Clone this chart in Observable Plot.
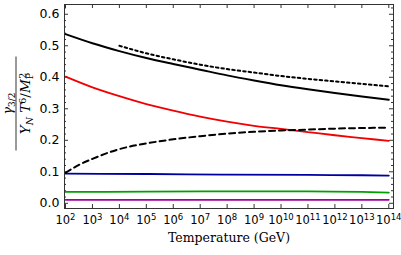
<!DOCTYPE html>
<html>
<head>
<meta charset="utf-8">
<script src="https://cdn.jsdelivr.net/npm/d3@7"></script>
<script src="https://cdn.jsdelivr.net/npm/@observablehq/plot@0.6"></script>
<style>
  html, body { margin: 0; padding: 0; background: #fff; }
</style>
</head>
<body>
<div id="chart"></div>
<script>
// Temperatures (GeV)
const T_full = [1e2, 1e3, 1e4, 1e5, 1e6, 1e7, 1e8, 1e9, 1e10, 1e11, 1e12, 1e13, 1e14];
const blackSolid = [0.537, 0.508, 0.483, 0.461, 0.442, 0.424, 0.406, 0.390, 0.375, 0.362, 0.350, 0.339, 0.329];
const red        = [0.402, 0.368, 0.340, 0.315, 0.294, 0.275, 0.259, 0.246, 0.236, 0.226, 0.216, 0.207, 0.198];
const T_dotted = [1e4, 1e5, 1e6, 1e7, 1e8, 1e9, 1e10, 1e11, 1e12, 1e13, 1e14];
const blackDotted = [0.500, 0.476, 0.457, 0.440, 0.426, 0.415, 0.404, 0.395, 0.387, 0.379, 0.371];
const T_dashed = [1e2, 3.16e2, 1e3, 1e4, 1e5, 1e6, 1e7, 1e8, 1e9, 1e10, 1e11, 1e12, 1e13, 1e14];
const blackDashed = [0.097, 0.122, 0.141, 0.172, 0.190, 0.203, 0.213, 0.221, 0.227, 0.231, 0.234, 0.237, 0.239, 0.240];
const T_flat = [1e2, 1e5, 1e8, 1e11, 1e13, 1e14];
const blue   = [0.094, 0.093, 0.091, 0.090, 0.089, 0.088];
const green  = [0.036, 0.037, 0.038, 0.038, 0.036, 0.034];
const purple = [0.011, 0.011, 0.011, 0.011, 0.011, 0.011];

const xTicks = [1e2, 1e3, 1e4, 1e5, 1e6, 1e7, 1e8, 1e9, 1e10, 1e11, 1e12, 1e13, 1e14];
const yTicks = [0.0, 0.1, 0.2, 0.3, 0.4, 0.5, 0.6];
const yMinor = [0.02, 0.04, 0.06, 0.08, 0.12, 0.14, 0.16, 0.18, 0.22, 0.24, 0.26, 0.28, 0.32, 0.34, 0.36, 0.38, 0.42, 0.44, 0.46, 0.48, 0.52, 0.54, 0.56, 0.58, 0.62];
const xLabel = "Temperature (GeV)";

const series = (T, v) => T.map((t, i) => ({T: t, v: v[i]}));

const W = 401, H = 255, mL = 64, mR = 8, mT = 4, mB = 47;
const innerW = W - mL - mR, innerH = H - mT - mB;

const svg = Plot.plot({
  width: W, height: H,
  marginLeft: mL, marginRight: mR, marginTop: mT, marginBottom: mB,
  style: {fontFamily: "DejaVu Sans", fontSize: "12px", background: "#fff"},
  x: {type: "log", domain: [10 ** 1.963, 10 ** 14.175]},
  y: {domain: [-0.0165, 0.631]},
  marks: [
    Plot.axisX(xTicks, {anchor: "bottom", tickSize: 0, tickPadding: 7, tickFormat: d => String(Math.round(Math.log10(d))), label: null, fontSize: 11.5}),
    Plot.axisY(yTicks, {anchor: "left", tickSize: 0, tickPadding: 5, tickFormat: d3.format(".1f"), label: null, fontSize: 12.5}),
    // inward ticks
    Plot.tickX(xTicks, {x: d => d, insetTop: innerH - 4, stroke: "#333"}),
    Plot.tickX(xTicks, {x: d => d, insetBottom: innerH - 4, stroke: "#333"}),
    Plot.tickY(yTicks, {y: d => d, insetRight: innerW - 4, stroke: "#333"}),
    Plot.tickY(yTicks, {y: d => d, insetLeft: innerW - 4, stroke: "#333"}),
    Plot.tickY(yMinor, {y: d => d, insetRight: innerW - 2, stroke: "#333"}),
    Plot.tickY(yMinor, {y: d => d, insetLeft: innerW - 2, stroke: "#333"}),
    // curves
    Plot.line(series(T_flat, purple), {x: "T", y: "v", stroke: "#a000a0", strokeWidth: 1.8, curve: "monotone-x"}),
    Plot.line(series(T_flat, green), {x: "T", y: "v", stroke: "#00a000", strokeWidth: 1.8, curve: "monotone-x"}),
    Plot.line(series(T_flat, blue), {x: "T", y: "v", stroke: "#0000a0", strokeWidth: 1.8, curve: "monotone-x"}),
    Plot.line(series(T_full, red), {x: "T", y: "v", stroke: "#f00000", strokeWidth: 1.8, curve: "monotone-x"}),
    Plot.line(series(T_dashed, blackDashed), {x: "T", y: "v", stroke: "#000", strokeWidth: 2, strokeDasharray: "6,4", curve: "monotone-x"}),
    Plot.line(series(T_dotted, blackDotted), {x: "T", y: "v", stroke: "#000", strokeWidth: 2, strokeDasharray: "2.5,3", curve: "monotone-x"}),
    Plot.line(series(T_full, blackSolid), {x: "T", y: "v", stroke: "#000", strokeWidth: 2, curve: "monotone-x"}),
    Plot.frame({stroke: "#333", strokeWidth: 1}),
    Plot.text([xLabel], {frameAnchor: "bottom", dy: 33, text: d => d, fontFamily: "DejaVu Serif", fontSize: 12.5, fill: "#000"})
  ]
});

// Rewrite x tick labels as 10 with a superscript exponent
d3.select(svg).selectAll('g[aria-label="x-axis tick label"] text').each(function () {
  const t = d3.select(this);
  const e = t.text();
  t.text(null);
  t.append("tspan").text("10");
  t.append("tspan").attr("font-size", 8.5).attr("dy", "-0.45em").text(e);
});

// Y-axis fraction label
const g = d3.select(svg).append("g")
  .attr("transform", "translate(16,103.5) rotate(-90)")
  .attr("font-family", "DejaVu Serif")
  .attr("fill", "#000");
g.append("line").attr("x1", -47).attr("x2", 47).attr("y1", 0).attr("y2", 0)
  .attr("stroke", "#000").attr("stroke-width", 0.8);
const num = g.append("text").attr("text-anchor", "middle").attr("y", -4).attr("font-size", 12.5);
num.append("tspan").attr("font-style", "italic").text("γ");
num.append("tspan").attr("font-size", 9).attr("dy", 2.5).text("3/2");
const den = g.append("text").attr("text-anchor", "middle").attr("y", 14).attr("font-size", 13.5);
den.append("tspan").attr("font-style", "italic").text("Y");
den.append("tspan").attr("font-size", 9.5).attr("font-style", "italic").attr("dy", 3).text("N");
den.append("tspan").attr("font-style", "italic").attr("dy", -3).text(" T");
den.append("tspan").attr("font-size", 9.5).attr("dy", -4).text("6");
den.append("tspan").attr("dy", 4).text("/");
den.append("tspan").attr("font-style", "italic").text("M");
den.append("tspan").attr("font-size", 9.5).attr("dy", 3).text("P");
den.append("tspan").attr("font-size", 9.5).attr("dx", -6).attr("dy", -7.5).text("2");

document.getElementById("chart").appendChild(svg);
</script>
</body>
</html>
